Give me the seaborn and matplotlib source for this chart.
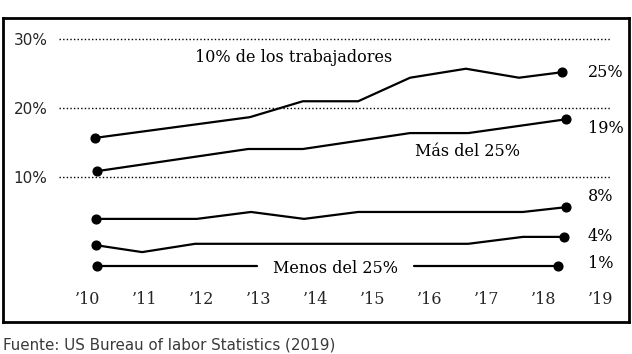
import matplotlib.pyplot as plt
import seaborn as sns
import pandas as pd

# values (x in years, y in percent on the chart scale)
top_x = [2010.12, 2012.84, 2013.77, 2014.74, 2015.65, 2016.63, 2017.56, 2018.32]
top_y = [15.7, 18.7, 21.0, 21.0, 24.4, 25.7, 24.4, 25.2]

mas_x = [2010.16, 2012.81, 2013.77, 2015.65, 2016.67, 2018.39]
mas_y = [10.9, 14.1, 14.1, 16.4, 16.4, 18.4]

l8_x = [2010.14, 2011.91, 2012.86, 2013.79, 2014.74, 2017.63, 2018.39]
l8_y = [4.0, 4.0, 5.0, 4.0, 5.0, 5.0, 5.7]

l4_x = [2010.14, 2010.95, 2011.88, 2016.67, 2017.63, 2018.35]
l4_y = [0.2, -0.8, 0.4, 0.4, 1.4, 1.4]

men_x1 = [2010.16, 2012.96]
men_x2 = [2015.72, 2018.25]
men_y = -2.8

end_labels = ["25%", "19%", "8%", "4%", "1%"]
end_label_y = [25.2, 17.0, 7.2, 1.5, -2.5]

years = list(range(2010, 2020))
year_labels = ["\u2019" + str(y)[2:] for y in years]
grid_vals = [10, 20, 30]

sns.set_style("white")
plt.rcParams['font.family'] = ['DejaVu Serif']

fig = plt.figure(figsize=(6.32, 3.54), dpi=100)
ax = fig.add_axes([3 / 632, 32 / 354, 626 / 632, 304 / 354])
ax.set_xlim(2008.51, 2019.49)
ax.set_ylim(-10.9, 33.03)

for s in ax.spines.values():
    s.set_color("black")
    s.set_linewidth(2)

ax.hlines(grid_vals, 2009.49, 2019.16, colors="black", linestyles=(0, (1, 1.6)), linewidth=1)

lines = [(top_x, top_y), (mas_x, mas_y), (l8_x, l8_y), (l4_x, l4_y),
         (men_x1, [men_y] * 2), (men_x2, [men_y] * 2)]
for xs, ys in lines:
    df = pd.DataFrame({"x": xs, "y": ys})
    sns.lineplot(data=df, x="x", y="y", ax=ax, color="black", linewidth=1.6,
                 estimator=None, sort=False)

# end point markers
for xs, ys in [(top_x, top_y), (mas_x, mas_y), (l8_x, l8_y), (l4_x, l4_y)]:
    ax.plot([xs[0], xs[-1]], [ys[0], ys[-1]], "o", color="black", markersize=6.3)
ax.plot([men_x1[0], men_x2[-1]], [men_y, men_y], "o", color="black", markersize=6.3)

ax.set_xlabel("")
ax.set_ylabel("")
ax.set_xticks(years)
ax.set_xticklabels(year_labels, fontsize=11.5)
ax.set_yticks(grid_vals)
ax.set_yticklabels([f"{v}%" for v in grid_vals], fontsize=11, family="DejaVu Sans")
ax.tick_params(axis="x", length=0, pad=-22)
ax.tick_params(axis="y", length=0, pad=-32)

txt = dict(fontsize=11.5, color="black", va="center")
ax.text(2013.61, 27.25, "10% de los trabajadores", ha="center", **txt)
ax.text(2016.65, 13.67, "Más del 25%", ha="center", **txt)
ax.text(2014.35, -3.24, "Menos del 25%", ha="center", **txt)
for lab, yv in zip(end_labels, end_label_y):
    ax.text(2018.77, yv, lab, ha="left", **txt)

fig.text(3 / 632, 1 - 345 / 354, "Fuente: US Bureau of labor Statistics (2019)",
         family="DejaVu Sans", fontsize=10.9, color="#3a3a3a", ha="left", va="center")

fig.savefig("out.png", dpi=100)
